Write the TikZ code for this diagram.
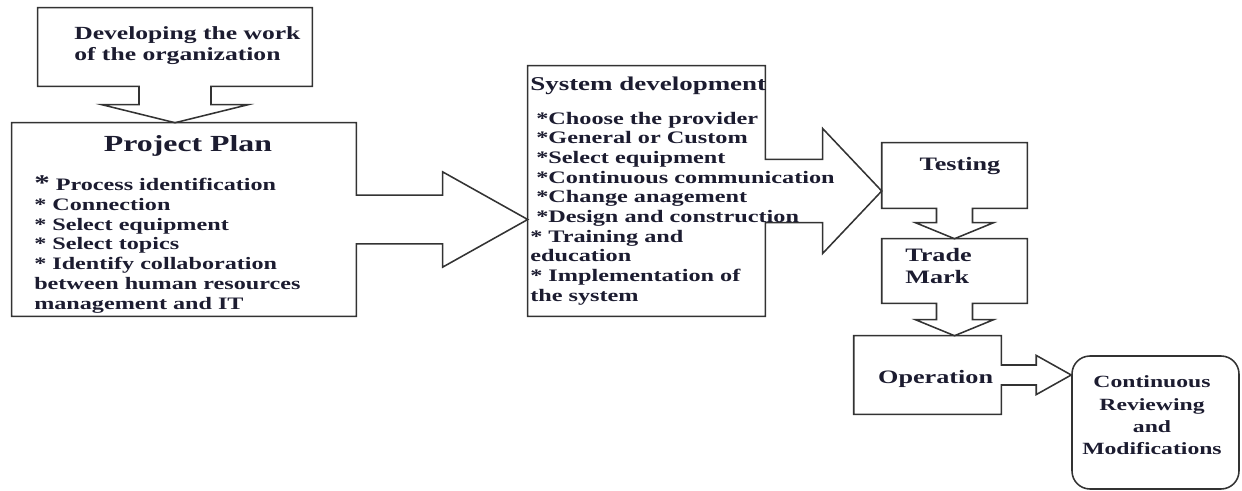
\documentclass[tikz,border=0pt]{standalone}
\usepackage{fontspec}
\setmainfont[FakeStretch=1.38]{Liberation Serif}
\usetikzlibrary{calc}

\definecolor{ink}{HTML}{1C1C30}
\definecolor{edge}{HTML}{333333}

\tikzset{
  outline/.style={draw=edge, line width=1.1pt, line join=miter},
  box/.style={inner sep=0pt},
  txt/.style={text=ink, inner sep=0pt, align=left},
}

% box with a block arrow coming out of its right side
\newcommand{\calloutright}[5]{%
  \draw[outline] let \p1=(#1.east), \p2=(#2.west) in
    (#1.north west) -- (#1.north east) -- (\x1,\y1+#3) -- (\x2-#5,\y1+#3)
    -- (\x2-#5,\y1+#4) -- (\x2,\y1) -- (\x2-#5,\y1-#4) -- (\x2-#5,\y1-#3)
    -- (\x1,\y1-#3) -- (#1.south east) -- (#1.south west) -- cycle;}
% same thing, arrow out of the bottom side
\newcommand{\calloutdown}[5]{%
  \draw[outline] let \p1=(#1.south), \p2=(#2.north) in
    (#1.south west) -- (#1.north west) -- (#1.north east) -- (#1.south east)
    -- (\x1+#3,\y1) -- (\x1+#3,\y2+#5) -- (\x1+#4,\y2+#5) -- (\x1,\y2)
    -- (\x1-#4,\y2+#5) -- (\x1-#3,\y2+#5) -- (\x1-#3,\y1) -- cycle;}

\begin{document}
\begin{tikzpicture}
\useasboundingbox (0,0) rectangle (31.05,-12.275);

% The boxes
\node[box, minimum width=6.85cm, minimum height=1.95cm] (dev) at (4.375,-1.175) {};
\node[box, minimum width=8.6cm, minimum height=4.825cm] (plan) at (4.6,-5.4875) {};
\node[box, minimum width=5.925cm, minimum height=6.25cm] (sys) at (16.1625,-4.775) {};
\node[box, minimum width=3.625cm, minimum height=1.625cm] (test) at (23.8625,-4.3875) {};
\node[box, minimum width=3.625cm, minimum height=1.6cm] (trade) at (23.8625,-6.775) {};
\node[box, minimum width=3.675cm, minimum height=1.95cm] (oper) at (23.1875,-9.375) {};
\node[box, outline, rounded corners=0.45cm, minimum width=4.175cm, minimum height=3.325cm] (cont) at (28.8875,-10.5625) {};

% Outlines with the arrows (shaft, head, head length)
\calloutdown{dev}{plan}{0.9cm}{1.825cm}{0.45cm}
\calloutright{plan}{sys}{0.61cm}{1.19cm}{2.125cm}
\calloutright{sys}{test}{0.79cm}{1.56cm}{1.475cm}
\calloutdown{test}{trade}{0.45cm}{0.975cm}{0.4cm}
\calloutdown{trade}{oper}{0.45cm}{0.975cm}{0.4cm}
\calloutright{oper}{cont}{0.25cm}{0.49cm}{0.875cm}

% Texts
\node[txt, anchor=west, font={\fontsize{13.2}{15.6}\selectfont\bfseries}] (devtext) at (1.85,-1.14) {Developing the work\\of the organization};
\node[txt, anchor=base, font={\fontsize{16.4}{18}\selectfont\bfseries}] (plantitle) at (4.7,-3.8) {Project Plan};
\node[txt, anchor=west, font={\fontsize{12.45}{14.1}\selectfont\bfseries}] (planlist) at (0.85,-6.11) {{\fontsize{16}{14}\selectfont *} Process identification\\* Connection\\* Select equipment\\* Select topics\\* Identify collaboration\\between human resources\\management and IT};
\node[txt, anchor=base west, font={\fontsize{13.9}{16}\selectfont\bfseries}] (systitle) at (13.25,-2.275) {System development};
\node[txt, anchor=west, font={\fontsize{12.5}{14}\selectfont\bfseries}] (syslist) at (13.25,-5.21) {\hspace*{0.15cm}*Choose the provider\\\hspace*{0.15cm}*General or Custom\\\hspace*{0.15cm}*Select equipment\\\hspace*{0.15cm}*Continuous communication\\\hspace*{0.15cm}*Change anagement\\\hspace*{0.15cm}*Design and construction\\* Training and\\education\\* Implementation of\\the system};
\node[txt, anchor=base, font={\fontsize{13.5}{15.6}\selectfont\bfseries}] (testtext) at (24.0,-4.275) {Testing};
\node[txt, anchor=west, font={\fontsize{13.5}{15.6}\selectfont\bfseries}] (tradetext) at (22.625,-6.64) {Trade\\Mark};
\node[txt, anchor=base, font={\fontsize{13.5}{15.6}\selectfont\bfseries}] (opertext) at (23.39,-9.575) {Operation};
\node[txt, align=center, font={\fontsize{12.2}{15.9}\selectfont\bfseries}] (conttext) at (28.8,-10.39) {Continuous\\Reviewing\\and\\Modifications};
\end{tikzpicture}
\end{document}
